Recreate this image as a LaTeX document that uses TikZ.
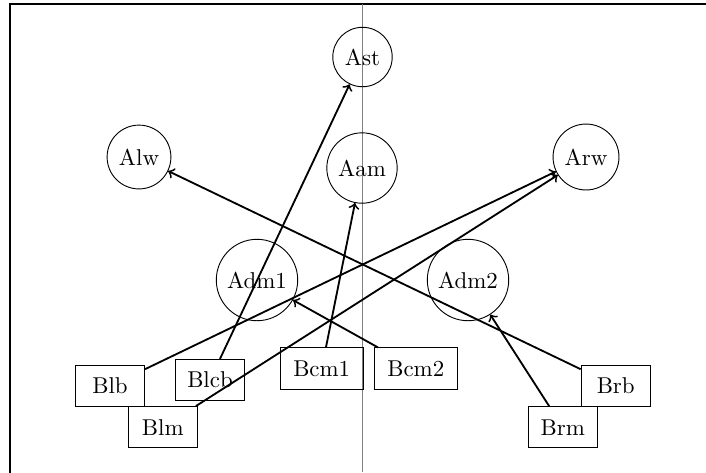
\documentclass[tikz,border=0pt]{standalone}
\usepackage{tikz}
\tikzset{
    acirc/.style={draw, circle},
    bbox/.style={draw, rectangle, minimum width=30.2pt, minimum height=18pt},
    link/.style={->, thick},
}

\begin{document}
\begin{tikzpicture}[x=0.4367pt, y=-0.4367pt]
        \useasboundingbox (0, 0) rectangle (706, 472);
        %draw frame and middle line
        \draw[thick] (10.3, 480) -- (10.3, 4.3) -- (720, 4.3);
        \draw[line width=0.7pt, gray] (362.5, 4.3) -- (362.5, 472);
        %circles
        \node[acirc] (Ast) at (362.5, 57) {Ast};
        \node[acirc] (Aam) at (362, 168) {Aam};
        \node[acirc] (Alw) at (139, 157) {Alw};
        \node[acirc] (Arw) at (586, 157) {Arw};
        \node[acirc] (Adm1) at (257, 280) {Adm1};
        \node[acirc] (Adm2) at (468, 280) {Adm2};
        %boxes
        \node[bbox] (Blb) at (110, 386) {Blb};
        \node[bbox] (Blcb) at (210, 380) {Blcb};
        \node[bbox] (Blm) at (162.8, 427.2) {Blm};
        \node[bbox, minimum width=36.2pt] (Bcm1) at (321.7, 368.5) {Bcm1};
        \node[bbox, minimum width=36.2pt] (Bcm2) at (415.8, 368.5) {Bcm2};
        \node[bbox] (Brb) at (615.7, 386) {Brb};
        \node[bbox] (Brm) at (562.7, 427.2) {Brm};
        %links
        \draw[link] (Blcb) -- (Ast);
        \draw[link] (Bcm1) -- (Aam);
        \draw[link] (Bcm2) -- (Adm1);
        \draw[link] (Blb) -- (Arw);
        \draw[link] (Blm) -- (Arw);
        \draw[link] (Brb) -- (Alw);
        \draw[link] (Brm) -- (Adm2);
    \end{tikzpicture}
\end{document}
